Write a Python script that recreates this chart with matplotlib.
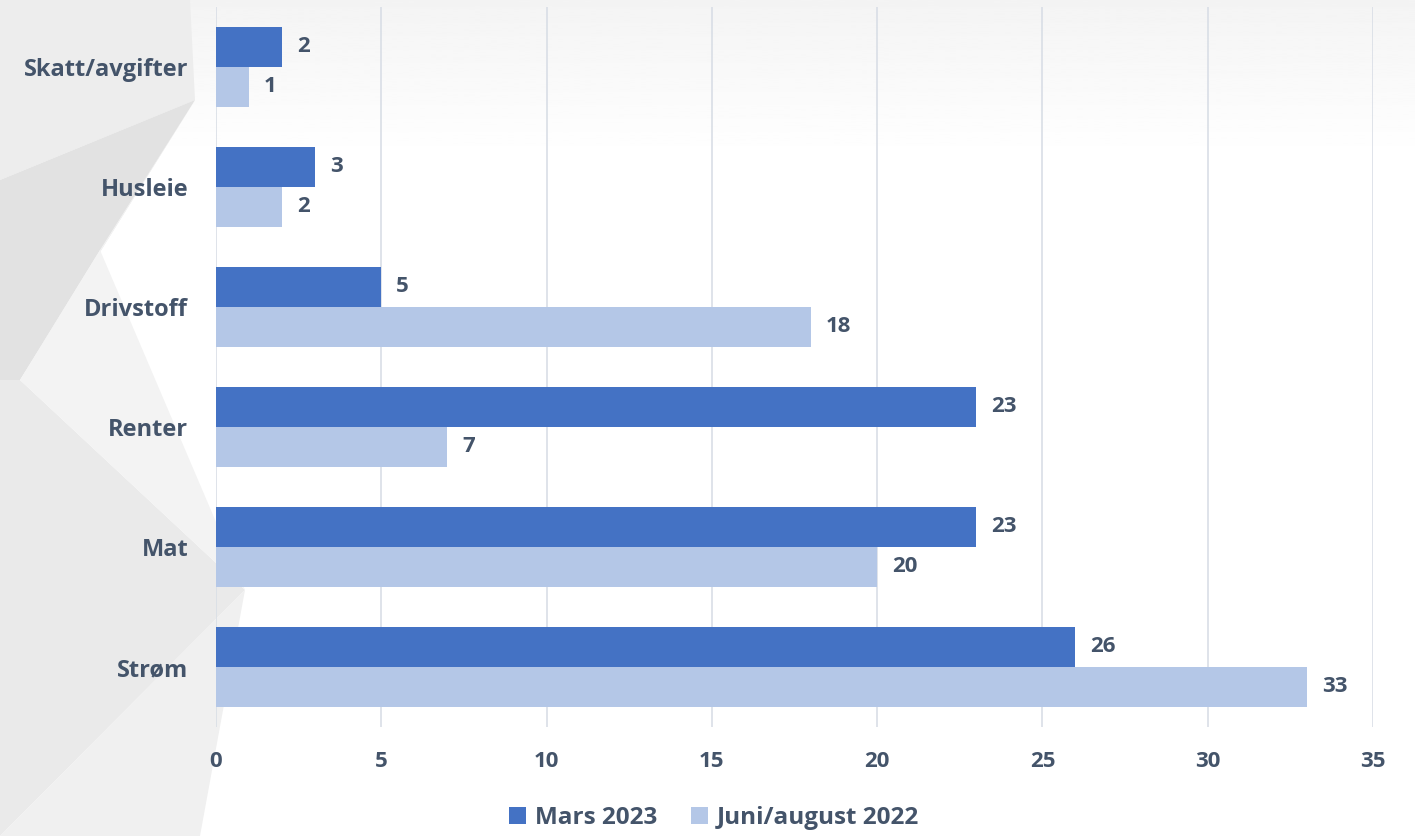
import matplotlib.pyplot as plt
import numpy as np
from matplotlib.patches import Polygon

# data (top to bottom in the picture)
categories = ["Skatt/avgifter", "Husleie", "Drivstoff", "Renter", "Mat", "Strøm"]
mars_2023 = [2, 3, 5, 23, 23, 26]
juni_aug_2022 = [1, 2, 18, 7, 20, 33]
series_names = ["Mars 2023", "Juni/august 2022"]
x_ticks = [0, 5, 10, 15, 20, 25, 30, 35]

dark = "#4472C4"
light = "#B4C7E7"
txt = "#44546A"

plt.rcParams['font.family'] = ['Open Sans', 'DejaVu Sans']
plt.rcParams['font.weight'] = 'bold'

fig = plt.figure(figsize=(14.15, 8.36), dpi=100)

# decorative grey shapes in the background
bg = fig.add_axes([0, 0, 1, 1], zorder=-1)
bg.set_xlim(0, 1415)
bg.set_ylim(836, 0)
bg.axis('off')
# soft grey fade at the top
fade = np.linspace(0.955, 1.0, 100).reshape(-1, 1)
bg.imshow(fade, cmap='gray', vmin=0, vmax=1, extent=[0, 1415, 160, 0], aspect='auto')
shapes = [
    ([[0, 0], [190, 0], [195, 100], [0, 180]], "#EDEDED"),
    ([[0, 180], [195, 100], [20, 380], [0, 380]], "#E2E2E2"),
    ([[0, 380], [20, 380], [245, 590], [0, 836]], "#EAEAEA"),
    ([[20, 380], [100, 250], [245, 590]], "#F3F3F3"),
    ([[0, 836], [245, 590], [200, 836]], "#F0F0F0"),
    ([[195, 100], [100, 250], [20, 380]], "#F4F4F4"),
]
for pts, c in shapes:
    bg.add_patch(Polygon(pts, color=c, lw=0))
bg.set_xlim(0, 1415)
bg.set_ylim(836, 0)

ax = fig.add_axes([216 / 1415, 1 - 727 / 836, (1373 - 216) / 1415, 720 / 836])
ax.patch.set_alpha(0)

y = np.arange(len(categories))
h = 1 / 3
b1 = ax.barh(y - h / 2, mars_2023, height=h, color=dark, label=series_names[0], zorder=3)
b2 = ax.barh(y + h / 2, juni_aug_2022, height=h, color=light, label=series_names[1], zorder=3)

for bars, vals in [(b1, mars_2023), (b2, juni_aug_2022)]:
    for bar, v in zip(bars, vals):
        ax.text(v + 0.45, bar.get_y() + bar.get_height() / 2, str(v),
                va='center', ha='left', fontsize=16, color=txt, fontweight='bold')

ax.set_ylim(len(categories) - 0.5, -0.5)
ax.set_xlim(0, 35)
ax.set_xticks(x_ticks)
ax.set_yticks(y)
ax.set_yticklabels(categories, fontsize=17, color=txt, fontweight='bold')
ax.tick_params(axis='y', length=0, pad=20)
ax.tick_params(axis='x', length=0, pad=17, labelsize=16, labelcolor=txt)
ax.grid(axis='x', color="#D9DEE6", lw=1.2, zorder=0)
for s in ax.spines.values():
    s.set_visible(False)

leg = fig.legend(handles=[b1, b2], loc='center', bbox_to_anchor=(714 / 1415, 1 - 818 / 836),
                 ncol=2, frameon=False, fontsize=17.5, handlelength=0.7, handleheight=0.7,
                 columnspacing=1.4, handletextpad=0.35)
for t in leg.get_texts():
    t.set_color(txt)
    t.set_fontweight('bold')

fig.savefig("out.png", dpi=100)
